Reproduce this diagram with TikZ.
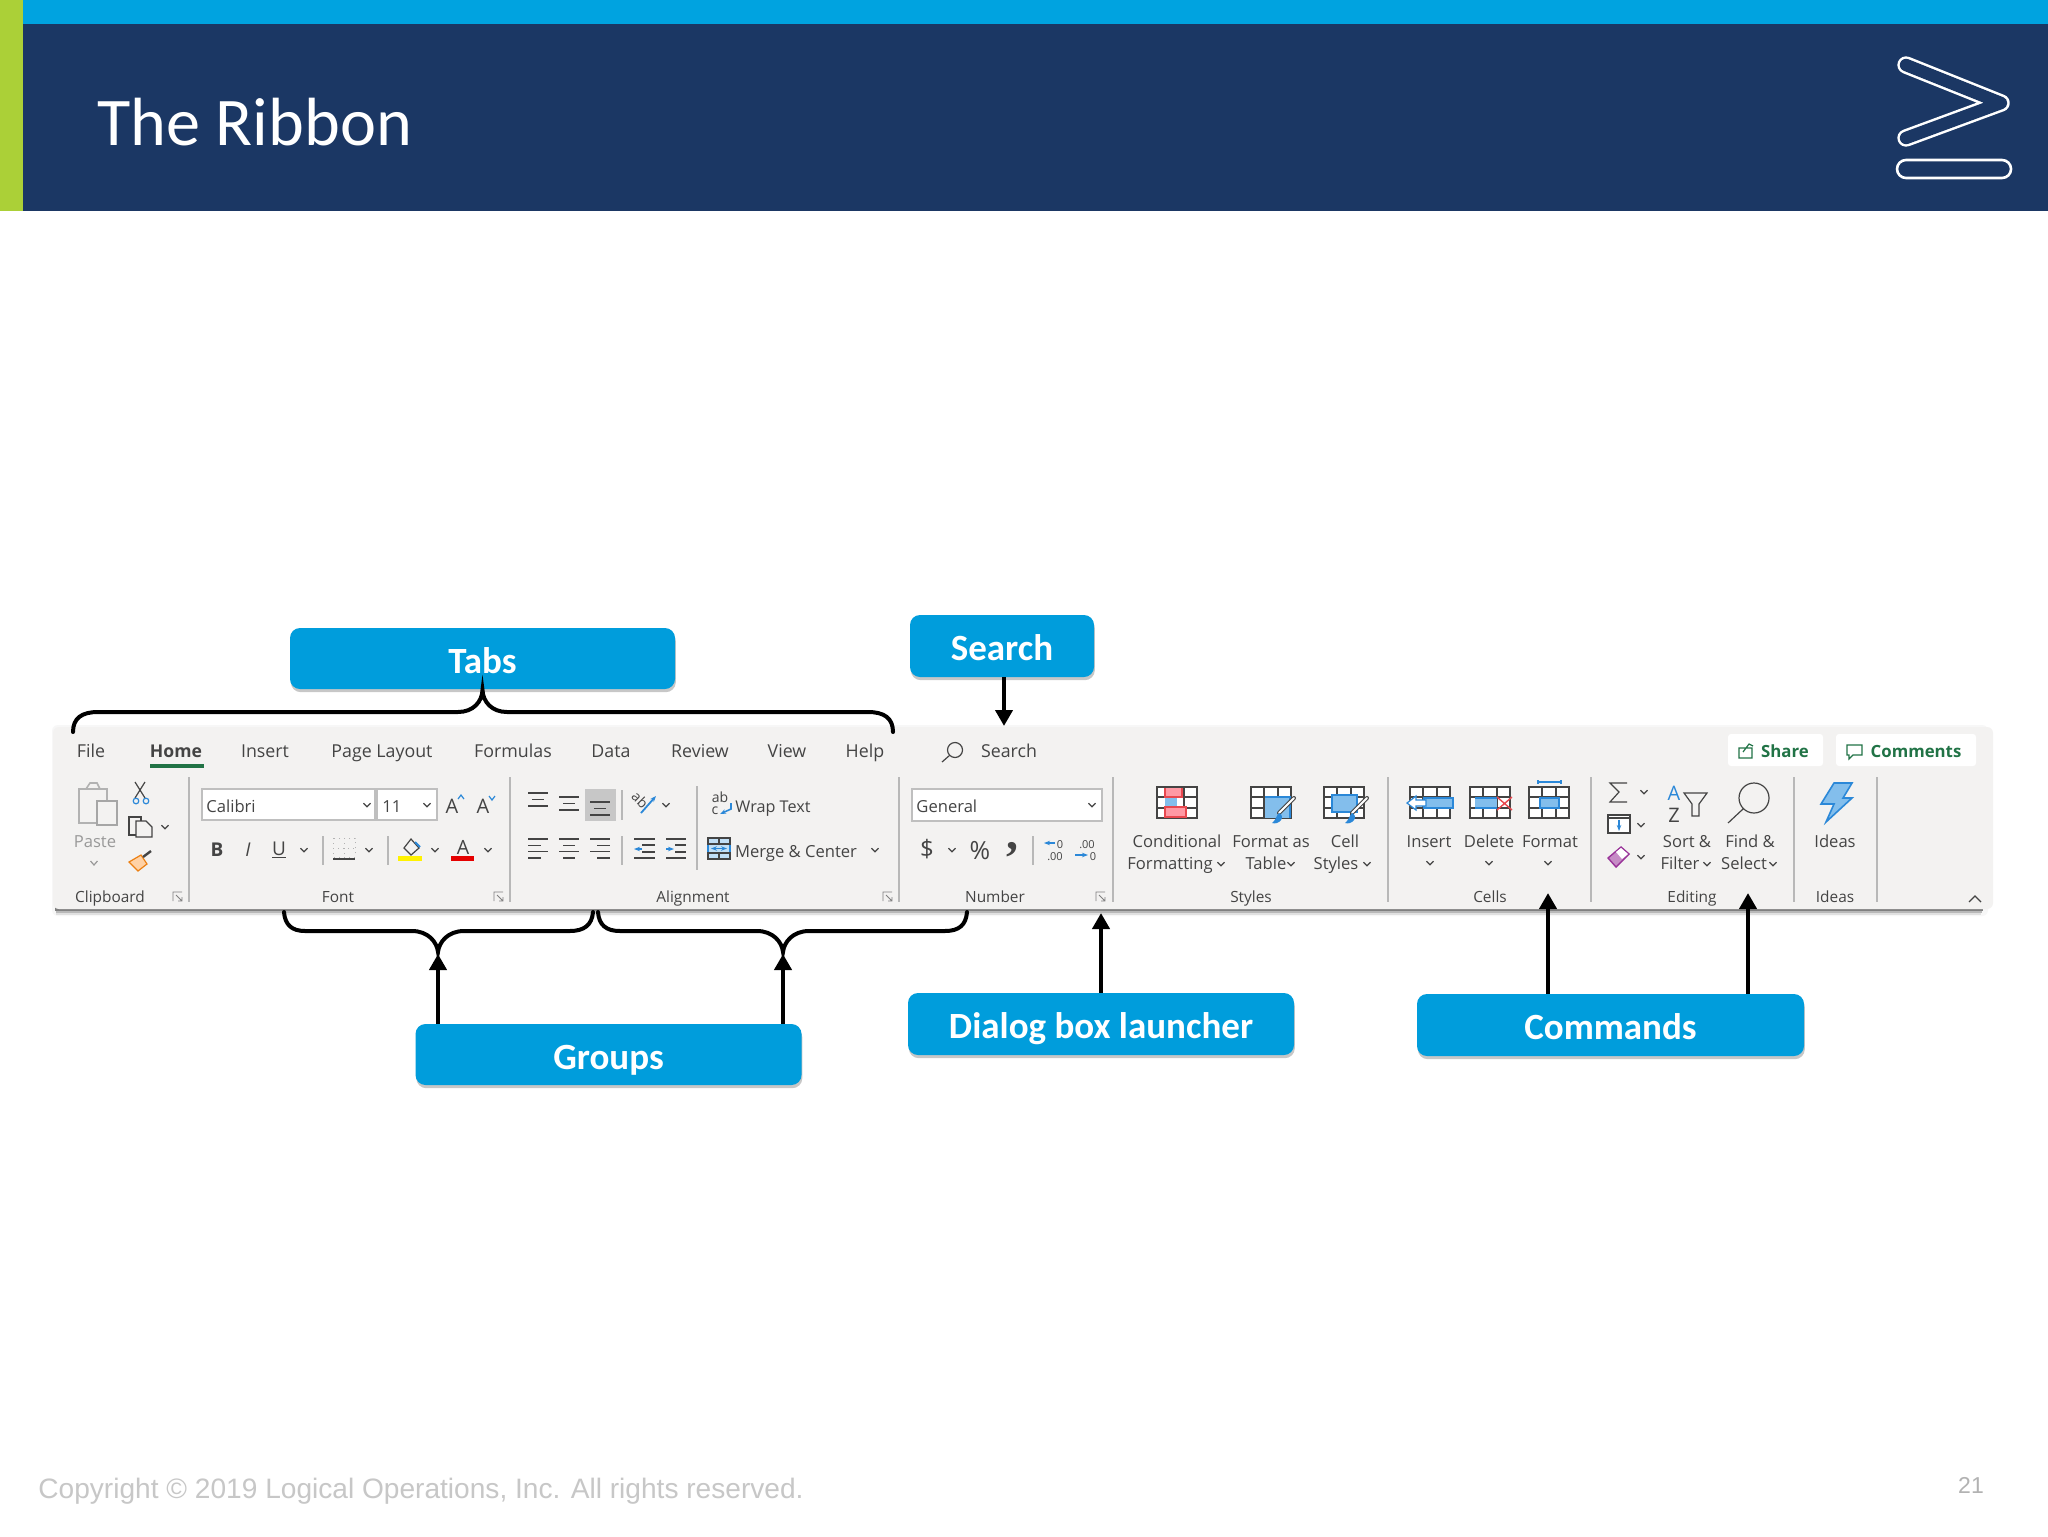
\documentclass[tikz,border=0pt]{standalone}
\usepackage{fontspec}
\setmainfont{Carlito}
\newfontfamily\uifont{Open Sans}
\newfontfamily\footfont{Liberation Sans}
\newfontfamily\commafont{Liberation Serif}
\usetikzlibrary{arrows.meta,shadows}
\definecolor{barblue}{HTML}{00A3E0}
\definecolor{navy}{HTML}{1B3764}
\definecolor{limebar}{HTML}{ABD037}
\definecolor{boxblue}{HTML}{009DDC}
\definecolor{ribbongray}{HTML}{F3F2F1}
\definecolor{uitext}{HTML}{444444}
\definecolor{uigreen}{HTML}{217346}
\definecolor{iconblue}{HTML}{2B88D8}
\definecolor{iconfill}{HTML}{83BEEC}
\definecolor{iconred}{HTML}{E8484F}
\definecolor{iconpink}{HTML}{FF99A4}
\tikzset{
  calloutbox/.style={fill=boxblue,rounded corners=5pt,text=white,text height=17pt,text depth=2.5pt,
    font=\fontsize{18.5}{20}\selectfont\bfseries,
    drop shadow={shadow xshift=.4pt,shadow yshift=-1.6pt,opacity=.22,fill=black}},
  bracket/.style={draw=black,line width=2pt,line cap=round},
  callarrow/.style={draw=black,line width=2.4pt,-{Triangle[length=8pt,width=8.5pt]}},
  uilabel/.style={text=uitext,inner sep=0pt,anchor=base,font=\uifont\fontsize{8.3}{10}\selectfont},
  tablabel/.style={uilabel,font=\uifont\fontsize{8.9}{10}\selectfont},
  grouplabel/.style={uilabel,font=\uifont\fontsize{7.7}{10}\selectfont},
  sepline/.style={draw=black!28,line width=.6pt},
  iconline/.style={draw=uitext,line width=.6pt},
  blueline/.style={draw=iconblue,line width=.6pt},
  inputbox/.style={draw=black!25,fill=white,line width=.6pt},
  chev/.pic={\draw[uitext,line width=.6pt] (-3.5,-1.8)--(0,1.8)--(3.5,-1.8);},
  launcher/.pic={\draw[black!50,line width=.4pt] (-5,4)--(-5,-5)--(4,-5) (-2,-2)--(4,4) (0,4)--(4,4)--(4,0);},
  tablegrid/.pic={\draw[iconline] (0,0) rectangle (40,31) (0,10)--(40,10) (0,21)--(40,21) (13,0)--(13,31) (27,0)--(27,31);},
  brushicon/.pic={\draw[uitext,line width=2pt,line cap=round] (0,0)--(-15,15);
    \draw[white,line width=1pt,line cap=round] (0,0)--(-15,15);
    \fill[iconblue] (-22,25)..controls (-18,22) and (-18,18)..(-15,15)..controls (-12,16) and (-11,20)..(-13,22)..controls (-15,25) and (-19,26)..(-22,25)--cycle;},
  linestack/.pic={\draw[iconline] (0,0)--(20,0) (4,6.5)--(16,6.5) (0,13)--(20,13);},
  leftstack/.pic={\draw[iconline] (0,0)--(20,0) (0,6.3)--(13,6.3) (0,12.6)--(20,12.6) (0,19)--(13,19);},
  midstack/.pic={\draw[iconline] (0,0)--(20,0) (4,6.3)--(16,6.3) (0,12.6)--(20,12.6) (4,19)--(16,19);},
  rightstack/.pic={\draw[iconline] (0,0)--(20,0) (7,6.3)--(20,6.3) (0,12.6)--(20,12.6) (7,19)--(20,19);}
}
\begin{document}
\begin{tikzpicture}[x=0.5pt,y=-0.5pt]
  \useasboundingbox (0,0) rectangle (2048,1536);
  \fill[white] (0,0) rectangle (2048,1536);
  % title band
  \fill[navy] (0,24) rectangle (2048,211);
  \fill[barblue] (0,0) rectangle (2048,24);
  \fill[limebar] (0,0) rectangle (23,211);
  \node[anchor=base west,inner sep=0pt,text=white,font=\fontsize{34.1}{40}\selectfont] (title) at (97,145) {The Ribbon};
  \draw[white,line width=8.7pt,line cap=round,line join=round] (1906,65)--(2001,103)--(1906,138);
  \draw[navy,line width=6.2pt,line cap=round,line join=round] (1906,65)--(2001,103)--(1906,138);
  \draw[white,line width=1.3pt,rounded corners=4.5pt] (1897,160) rectangle (2011,178);
  % ribbon
  \fill[black!3,rounded corners=3pt] (52,725) rectangle (1988,916);
  \fill[black!12] (56,905) rectangle (1981,914.5);
  \fill[black!28] (56,905) rectangle (1982,912.5);
  \fill[black!50] (55,905) rectangle (1983,910.5);
  \fill[ribbongray,rounded corners=3pt] (53,727) rectangle (1993,909);
  % tabs
  \foreach \tabtxt/\tabx/\tabname in {File/91/tabfile,Insert/265/tabinsert,Page Layout/382/tablayout,
      Formulas/513/tabformulas,Data/611/tabdata,Review/700/tabreview,View/787/tabview,Help/865/tabhelp,Search/1009/tabsearch}
    \node[tablabel] (\tabname) at (\tabx,757) {\tabtxt};
  \node[tablabel,font=\uifont\fontsize{8.8}{10}\selectfont\bfseries] (tabhome) at (176,757) {Home};
  \fill[uigreen] (150,764) rectangle (204,768);
  \draw[iconline] (955,750) circle (7.5) (950,755)--(942,762);
  % share and comments
  \fill[white,rounded corners=1.5pt] (1728,734) rectangle (1823,766);
  \fill[white,rounded corners=1.5pt] (1836,734) rectangle (1976,766);
  \node[tablabel,text=uigreen,font=\uifont\fontsize{8.4}{10}\selectfont\bfseries] (sharetxt) at (1785,757) {Share};
  \node[tablabel,text=uigreen,font=\uifont\fontsize{8.4}{10}\selectfont\bfseries] (commenttxt) at (1916,757) {Comments};
  \draw[uigreen,line width=.6pt] (1739,748) rectangle (1752,758) (1743,752)--(1749,744)--(1753,746);
  \draw[uigreen,line width=.6pt] (1847,745)--(1862,745)--(1862,755)--(1853,755)--(1849,759)--(1849,755)--(1847,755)--cycle;
  % group separators
  \foreach \sepx in {189,510,899,1113,1388,1591,1794,1877}
    \draw[sepline] (\sepx,777)--(\sepx,902);
  \foreach \sepx/\sepa/\sepb in {323/836/865,388/836/865,622/790/820,622/836/865,697/786/870,1033/836/865}
    \draw[sepline] (\sepx,\sepa)--(\sepx,\sepb);
  % group names
  \foreach \grptxt/\grpx/\grpname in {Clipboard/110/grpclip,Font/338/grpfont,Alignment/693/grpalign,Number/995/grpnumber,
      Styles/1251/grpstyles,Cells/1490/grpcells,Editing/1692/grpediting,Ideas/1835/grpideas}
    \node[grouplabel] (\grpname) at (\grpx,902) {\grptxt};
  \foreach \lx in {178,499,888,1101}
    \pic at (\lx,897) {launcher};
  \draw[uitext,line width=.6pt] (1969,902)--(1975,896)--(1981,902);
  % all the small drop-down marks
  \foreach \cx/\cy in {165/827,304/850,369/850,435/850,488/850,666/805,875/850,952/850,
      1221/864,1291/864,1367/864,1430/863,1489/863,1548/863,1644/792,1641/825,1641/857,1707/864,1773/864}
    \pic at (\cx,\cy) {chev};
  % clipboard
  \draw[black!30,line width=.8pt] (79,789) rectangle (107,823) (86,789)--(90,783)--(97,783)--(100,789);
  \draw[black!35,fill=ribbongray,line width=.8pt] (97,801) rectangle (117,825);
  \node[uilabel,text=black!40] (pastetxt) at (95,847) {Paste};
  \draw[black!40,line width=.6pt] (90.5,861)--(94,865)--(97.5,861);
  \draw[iconline] (135,782)--(145,798) (145,782)--(135,798);
  \draw[blueline] (136,801) circle (2.8) (146,801) circle (2.8);
  \draw[iconline] (129,817) rectangle (141,835);
  \draw[iconline,fill=ribbongray] (136,821)--(146,821)--(152,827)--(152,837)--(136,837)--cycle;
  \draw[orange!70!brown,fill=orange!35,line width=.6pt] (129,862)--(141,855)--(147,864)--(138,871)--cycle;
  \draw[uitext,line width=1.2pt] (143,857)--(151,851);
  % font
  \draw[inputbox] (202,789) rectangle (375,820);
  \draw[inputbox] (377,789) rectangle (437,820);
  \pic at (367,805) {chev};
  \pic at (427,805) {chev};
  \node[uilabel,anchor=base west] (fontname) at (206,812) {Calibri};
  \node[uilabel,anchor=base west] (fontsize) at (382,812) {11};
  \node[uilabel,font=\uifont\fontsize{10}{10}\selectfont] (growtxt) at (452,813) {A};
  \node[uilabel,font=\uifont\fontsize{10}{10}\selectfont] (shrinktxt) at (483,813) {A};
  \draw[blueline] (458,799)--(461,795)--(464,799) (489,796)--(492,800)--(495,796);
  \node[uilabel,font=\uifont\fontsize{9.5}{10}\selectfont\bfseries] (boldtxt) at (217,856) {B};
  \node[uilabel,font=\uifont\fontsize{9.5}{10}\selectfont\itshape] (italictxt) at (248,856) {I};
  \node[uilabel,font=\uifont\fontsize{9.5}{10}\selectfont] (underlinetxt) at (279,855) {U};
  \draw[iconline] (272,857.5)--(286,857.5);
  \draw[black!30,dotted,line width=.5pt] (333,838) rectangle (355,857) (344,838)--(344,857) (333,848)--(355,848);
  \draw[iconline] (333,859)--(355,859);
  \draw[iconline] (404,848)--(411,839)--(419,848)--(411,855)--cycle;
  \draw[iconblue,line width=1pt] (415,842)--(420,847);
  \fill[yellow] (398,856) rectangle (422,861);
  \node[uilabel,font=\uifont\fontsize{9.8}{10}\selectfont] (colortxt) at (463,854) {A};
  \fill[red!90!black] (451,856) rectangle (474,861);
  % alignment
  \fill[black!22] (585,789) rectangle (616,821);
  \pic at (528,793) {linestack};
  \pic at (559,797) {linestack};
  \pic at (590,802) {linestack};
  \pic at (528,839) {leftstack};
  \pic at (559,839) {midstack};
  \pic at (590,839) {rightstack};
  \draw[iconline] (634,839)--(655,839) (642,845)--(655,845) (642,852)--(655,852) (634,858)--(655,858);
  \draw[iconline] (666,839)--(686,839) (675,845)--(686,845) (675,852)--(686,852) (666,858)--(686,858);
  \draw[blueline,line width=.9pt,-{Stealth[length=3pt]}] (642,849)--(634,849);
  \draw[blueline,line width=.9pt,-{Stealth[length=3pt]}] (666,849)--(674,849);
  \draw[blueline,line width=.9pt,-{Stealth[length=3pt]}] (641,813)--(656,796);
  \node[uilabel,anchor=center,rotate=-45,font=\uifont\fontsize{7}{8}\selectfont] (orienttxt) at (640,800) {ab};
  \node[uilabel,font=\uifont\fontsize{7}{8}\selectfont] (wrapab) at (720,802) {ab};
  \node[uilabel,font=\uifont\fontsize{7}{8}\selectfont] (wrapc) at (715,814) {c};
  \draw[blueline,line width=.8pt,-{Stealth[length=3pt]}] (731,803)--(731,809)--(720,814);
  \node[uilabel,font=\uifont\fontsize{8.1}{10}\selectfont] (wraptxt) at (773,812) {Wrap Text};
  \fill[iconfill!50] (708,838) rectangle (730,859);
  \draw[blueline] (708,838) rectangle (730,859);
  \draw[iconline] (708,838)--(730,838)--(730,844)--(708,844)--cycle (708,853)--(730,853)--(730,859)--(708,859)--cycle (719,838)--(719,844) (719,853)--(719,859);
  \draw[blueline,{Stealth[length=3pt]}-{Stealth[length=3pt]}] (711,848.5)--(727,848.5);
  \node[uilabel] (mergetxt) at (796,857) {Merge \& Center};
  % number
  \draw[inputbox] (912,789) rectangle (1102,821);
  \pic at (1092,805) {chev};
  \node[uilabel,anchor=base west] (numfmt) at (916,812) {General};
  \node[uilabel,font=\uifont\fontsize{12}{12}\selectfont] (dollartxt) at (927,857) {\$};
  \node[uilabel,font=\uifont\fontsize{12.5}{12}\selectfont] (percenttxt) at (980,859) {\%};
  \node[uilabel,font=\commafont\fontsize{24}{24}\selectfont\bfseries] (commatxt) at (1012,849) {,};
  \draw[blueline,line width=.8pt,-{Stealth[length=3pt]}] (1055,843)--(1044,843);
  \node[uilabel,font=\uifont\fontsize{5.5}{6}\selectfont] (incone) at (1060,848) {0};
  \node[uilabel,font=\uifont\fontsize{5.5}{6}\selectfont] (inctwo) at (1055,860) {.00};
  \node[uilabel,font=\uifont\fontsize{5.5}{6}\selectfont] (decone) at (1087,848) {.00};
  \node[uilabel,font=\uifont\fontsize{5.5}{6}\selectfont] (dectwo) at (1093,860) {0};
  \draw[blueline,line width=.8pt,-{Stealth[length=3pt]}] (1075,855)--(1088,855);
  % styles
  \fill[white] (1157,787) rectangle (1197,818);
  \pic at (1157,787) {tablegrid};
  \fill[iconpink] (1165,788) rectangle (1182,797);
  \fill[iconpink] (1165,807) rectangle (1186,817);
  \fill[iconfill] (1165,798) rectangle (1177,807);
  \draw[iconred,line width=.8pt] (1165,788)--(1165,797)--(1182,797)--(1182,788) (1165,817)--(1165,807)--(1186,807)--(1186,817)--cycle;
  \fill[white] (1251,787) rectangle (1290,818);
  \pic at (1251,787) {tablegrid};
  \fill[iconfill] (1265,797) rectangle (1290,818);
  \draw[blueline] (1265,797)--(1290,797)--(1290,818);
  \pic at (1294,798) {brushicon};
  \fill[white] (1324,787) rectangle (1364,818);
  \pic at (1324,787) {tablegrid};
  \fill[iconfill] (1332,795) rectangle (1357,812);
  \draw[blueline] (1332,795) rectangle (1357,812);
  \pic at (1367,798) {brushicon};
  \node[uilabel] (condtxt) at (1177,847) {Conditional};
  \node[uilabel] (formattingtxt) at (1170,869) {Formatting};
  \node[uilabel] (formatastxt) at (1271,847) {Format as};
  \node[uilabel] (tabletxt) at (1266,869) {Table};
  \node[uilabel] (celltxt) at (1345,847) {Cell};
  \node[uilabel] (stylestxt) at (1336,869) {Styles};
  % cells
  \fill[white] (1410,787) rectangle (1449,818);
  \pic at (1410,787) {tablegrid};
  \fill[iconfill] (1424,798) rectangle (1453,808);
  \draw[blueline] (1424,798) rectangle (1453,808);
  \draw[blueline,fill=white] (1407,803)--(1416,796)--(1416,800)--(1426,800)--(1426,806)--(1416,806)--(1416,810)--cycle;
  \fill[white] (1470,787) rectangle (1509,818);
  \pic at (1470,787) {tablegrid};
  \fill[iconfill] (1475,798) rectangle (1497,808);
  \draw[blueline] (1475,798)--(1497,798) (1475,808)--(1497,808);
  \draw[iconred,line width=.7pt] (1497,797)--(1512,810) (1512,797)--(1497,810);
  \fill[white] (1529,787) rectangle (1569,818);
  \pic at (1529,787) {tablegrid};
  \fill[iconfill] (1540,798) rectangle (1559,808);
  \draw[blueline] (1540,798) rectangle (1559,808);
  \draw[blueline] (1538,782)--(1561,782) (1538,780)--(1538,784) (1561,780)--(1561,784);
  \node[uilabel] (inserttxt) at (1429,847) {Insert};
  \node[uilabel] (deletetxt) at (1489,847) {Delete};
  \node[uilabel] (formattxt) at (1550,847) {Format};
  % editing
  \draw[iconline] (1627,783)--(1610,783)--(1619,792)--(1610,802)--(1627,802);
  \draw[iconline,fill=white] (1608,815) rectangle (1630,833);
  \draw[iconline] (1608,818)--(1630,818);
  \draw[blueline,line width=.8pt,-{Stealth[length=3pt]}] (1619,820)--(1619,831);
  \draw[draw=violet!80,fill=violet!45,line width=.7pt] (1608,858)--(1621,847)--(1629,854)--(1616,867)--cycle;
  \fill[white] (1616,852)--(1621,848)--(1628,854)--(1622,859)--cycle;
  \node[uilabel,text=iconblue,font=\uifont\fontsize{10}{10}\selectfont] (sorta) at (1674,800) {A};
  \node[uilabel,font=\uifont\fontsize{10}{10}\selectfont] (sortz) at (1674,822) {Z};
  \draw[iconline] (1684,793)--(1707,793)--(1699,804)--(1699,816)--(1692,816)--(1692,804)--cycle;
  \draw[iconline] (1754,798) circle (15) (1743,809)--(1728,823);
  \node[uilabel] (sorttxt) at (1687,847) {Sort \&};
  \node[uilabel] (filtertxt) at (1680,869) {Filter};
  \node[uilabel] (findtxt) at (1750,847) {Find \&};
  \node[uilabel] (selecttxt) at (1744,869) {Select};
  % ideas
  \draw[draw=iconblue,fill=iconfill,line width=.8pt] (1834,783)--(1852,783)--(1843,798)--(1852,798)--(1826,822)--(1834,804)--(1821,804)--cycle;
  \node[uilabel] (ideastxt) at (1835,847) {Ideas};
  % callouts
  \node[calloutbox,minimum width=192.5pt,minimum height=30.5pt] (tabsbox) at (482.5,658.5) {Tabs};
  \node[calloutbox,minimum width=92pt,minimum height=31pt] (searchbox) at (1002,646) {Search};
  \node[calloutbox,minimum width=193pt,minimum height=30.5pt] (groupsbox) at (608.5,1054.5) {Groups};
  \node[calloutbox,minimum width=193pt,minimum height=31pt] (launcherbox) at (1101,1024) {Dialog box launcher};
  \node[calloutbox,minimum width=193.5pt,minimum height=31pt] (commandsbox) at (1610.5,1025) {Commands};
  % braces
  \draw[bracket] (73,732) .. controls (73,718) and (82,712) .. (98,712) -- (458,712)
    .. controls (473,712) and (482,702) .. (482.5,690)
    .. controls (483,702) and (492,712) .. (507,712) -- (868,712)
    .. controls (884,712) and (893,718) .. (893,732);
  \draw[bracket] (284,912) .. controls (285,925) and (292,931) .. (305,931) -- (412,931)
    .. controls (428,931) and (437,942) .. (438,952)
    .. controls (439,942) and (448,931) .. (464,931) -- (570,931)
    .. controls (584,931) and (592,925) .. (593,912);
  \draw[bracket] (598,912) .. controls (599,925) and (606,931) .. (620,931) -- (757,931)
    .. controls (773,931) and (782,942) .. (783,952)
    .. controls (784,942) and (793,931) .. (809,931) -- (945,931)
    .. controls (959,931) and (966,925) .. (967,912);
  % arrows
  \coordinate (searchtip) at (1004,726);
  \coordinate (fonttip) at (438,954);
  \coordinate (aligntip) at (783,954);
  \coordinate (launchertip) at (1101,913);
  \coordinate (cellstip) at (1548,893);
  \coordinate (selecttip) at (1748,893);
  \draw[callarrow] (searchbox.south -| searchtip) -- (searchtip);
  \draw[callarrow] (groupsbox.north -| fonttip) -- (fonttip);
  \draw[callarrow] (groupsbox.north -| aligntip) -- (aligntip);
  \draw[callarrow] (launcherbox.north -| launchertip) -- (launchertip);
  \draw[callarrow] (commandsbox.north -| cellstip) -- (cellstip);
  \draw[callarrow] (commandsbox.north -| selecttip) -- (selecttip);
  % footer
  \node[anchor=base west,inner sep=0pt,text=black!22,font=\footfont\fontsize{14.05}{16}\selectfont] (copyright) at (38,1498) {Copyright © 2019 Logical Operations, Inc. All rights reserved.};
  \node[anchor=base,inner sep=0pt,text=black!30,font=\footfont\fontsize{11.5}{14}\selectfont] (pagenum) at (1971,1493) {21};
\end{tikzpicture}
\end{document}
